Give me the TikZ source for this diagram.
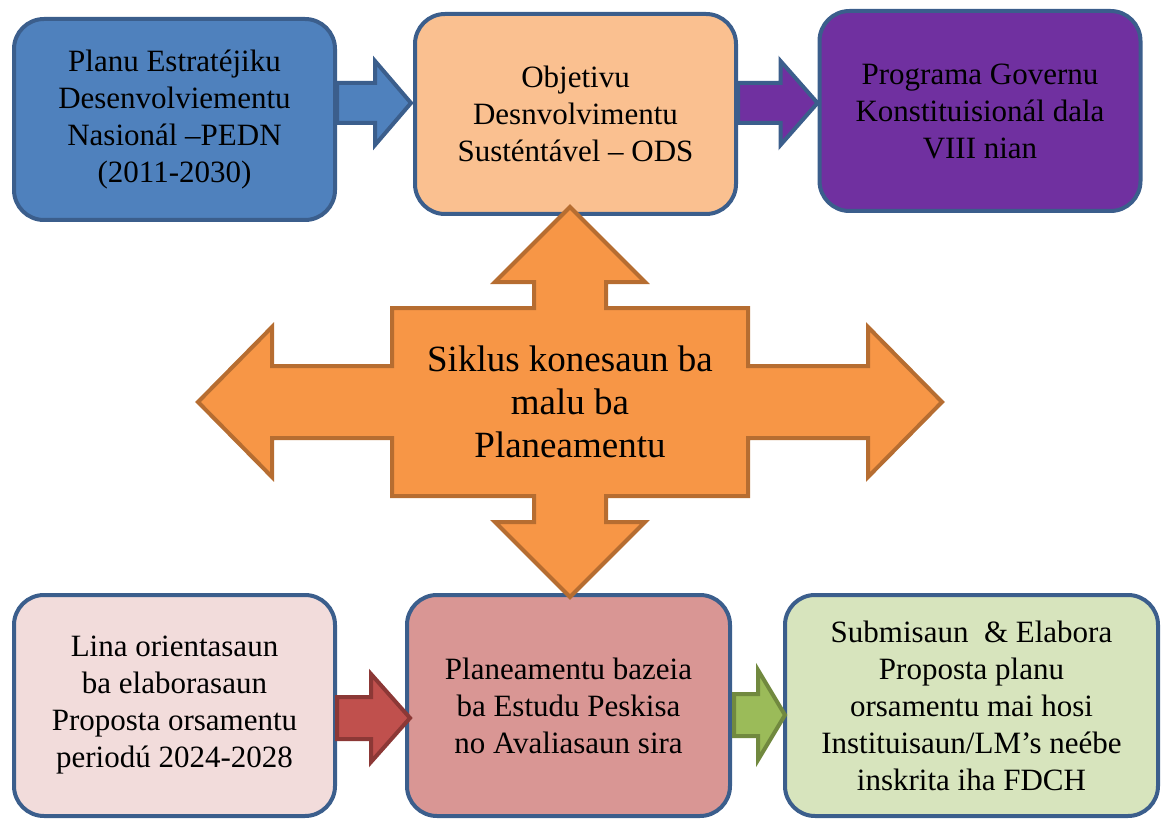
\documentclass[tikz,border=0pt]{standalone}
\usepackage{fontspec}
\setmainfont{Liberation Serif}
\usetikzlibrary{calc}
\definecolor{boxedge}{HTML}{3B5E8C}
\definecolor{planblue}{HTML}{4F81BD}
\definecolor{odspeach}{HTML}{FAC090}
\definecolor{govpurple}{HTML}{7030A0}
\definecolor{linapink}{HTML}{F2DCDB}
\definecolor{baserose}{HTML}{D99694}
\definecolor{subgreen}{HTML}{D7E4BD}
\definecolor{hubfill}{HTML}{F79646}
\definecolor{hubedge}{HTML}{B66D31}
\definecolor{redfill}{HTML}{C0504D}
\definecolor{rededge}{HTML}{8C3836}
\definecolor{greenfill}{HTML}{9BBB59}
\definecolor{greenedge}{HTML}{71893F}
\tikzset{
    raw box/.style={rectangle, rounded corners=30pt, line width=4pt, draw=boxedge, align=center, inner sep=0pt, font=\fontsize{31}{37}\selectfont},
    top box/.style={raw box, minimum width=321pt, minimum height=200pt},
    low box/.style={raw box, minimum width=321pt, minimum height=221pt},
    flow arrow/.style={line width=4pt, line join=miter, draw=boxedge},
    hub arrow/.style={line width=4pt, line join=miter, draw=hubedge, fill=hubfill},
    hub text/.style={align=center, inner sep=0pt, font=\fontsize{37}{43}\selectfont}
}
\begin{document}
\begin{tikzpicture}[x=1pt, y=-1pt]
    \useasboundingbox (0,0) rectangle (1162,821);
    % top row
    \node[top box, fill=planblue, minimum height=201pt] (pedn) at (174.5,119.5)
        {Planu Estratéjiku\\Desenvolviementu\\Nasionál –PEDN\\(2011-2030)};
    \node[top box, fill=odspeach] (ods) at (575.5,114)
        {Objetivu\\Desnvolvimentu\\Susténtável – ODS};
    \node[top box, fill=govpurple] (governu) at (980,111)
        {Programa Governu\\Konstituisionál dala\\VIII nian};
    % bottom row
    \node[low box, fill=linapink] (lina) at (174.5,705.5)
        {Lina orientasaun\\ba elaborasaun\\Proposta orsamentu\\periodú 2024-2028};
    \node[low box, fill=baserose, minimum width=323pt] (bazeia) at (568.5,705.5)
        {Planeamentu bazeia\\ba Estudu Peskisa\\no Avaliasaun sira};
    \node[low box, fill=subgreen, minimum width=373pt] (submisaun) at (971.5,705.5)
        {Submisaun ~\& Elabora\\Proposta planu\\orsamentu mai hosi\\Instituisaun/LM’s neébe\\inskrita iha FDCH};
    % block arrows between boxes
    \coordinate (tipA) at ($(ods.west)+(-2,-11)$);
    \draw[flow arrow, fill=planblue] (tipA) -- ++(-36,-42) -- ++(0,22)
        -- ($(pedn.east |- tipA)+(0,-20)$) -- ++(0,40) -- ($(tipA)+(-36,20)$) -- ++(0,22) -- cycle;
    \coordinate (tipB) at ($(governu.west)+(0,-8)$);
    \draw[flow arrow, fill=govpurple] (tipB) -- ++(-37,-42) -- ++(0,22)
        -- ($(ods.east |- tipB)+(0,-20)$) -- ++(0,40) -- ($(tipB)+(-37,20)$) -- ++(0,22) -- cycle;
    \coordinate (tipC) at ($(bazeia.west)+(5,12.5)$);
    \draw[flow arrow, draw=rededge, fill=redfill] (tipC) -- ++(-39,-44) -- ++(0,23)
        -- ($(lina.east |- tipC)+(0,-21)$) -- ++(0,42) -- ($(tipC)+(-39,21)$) -- ++(0,23) -- cycle;
    \coordinate (tipD) at ($(submisaun.west)+(2,9.5)$);
    \draw[flow arrow, draw=greenedge, fill=greenfill] (tipD) -- ++(-27,-45) -- ++(0,24)
        -- ($(bazeia.east |- tipD)+(2,-21)$) -- ++(0,42) -- ($(tipD)+(-27,21)$) -- ++(0,24) -- cycle;
    % four-way arrow in the middle
    \coordinate (hub) at (570,402);
    \draw[hub arrow, shift={(hub)}]
        (0,-195) -- (75,-120) -- (36,-120) -- (36,-94) -- (178,-94) -- (178,-36)
        -- (298,-36) -- (298,-75) -- (372,0) -- (298,75) -- (298,36) -- (178,36)
        -- (178,94) -- (36,94) -- (36,120) -- (75,120) -- (0,195) -- (-75,120)
        -- (-36,120) -- (-36,94) -- (-178,94) -- (-178,36) -- (-298,36) -- (-298,75)
        -- (-372,0) -- (-298,-75) -- (-298,-36) -- (-178,-36) -- (-178,-94)
        -- (-36,-94) -- (-36,-120) -- (-75,-120) -- cycle;
    \node[hub text] (siklus) at (hub) {Siklus konesaun ba\\malu ba\\Planeamentu};
\end{tikzpicture}
\end{document}
